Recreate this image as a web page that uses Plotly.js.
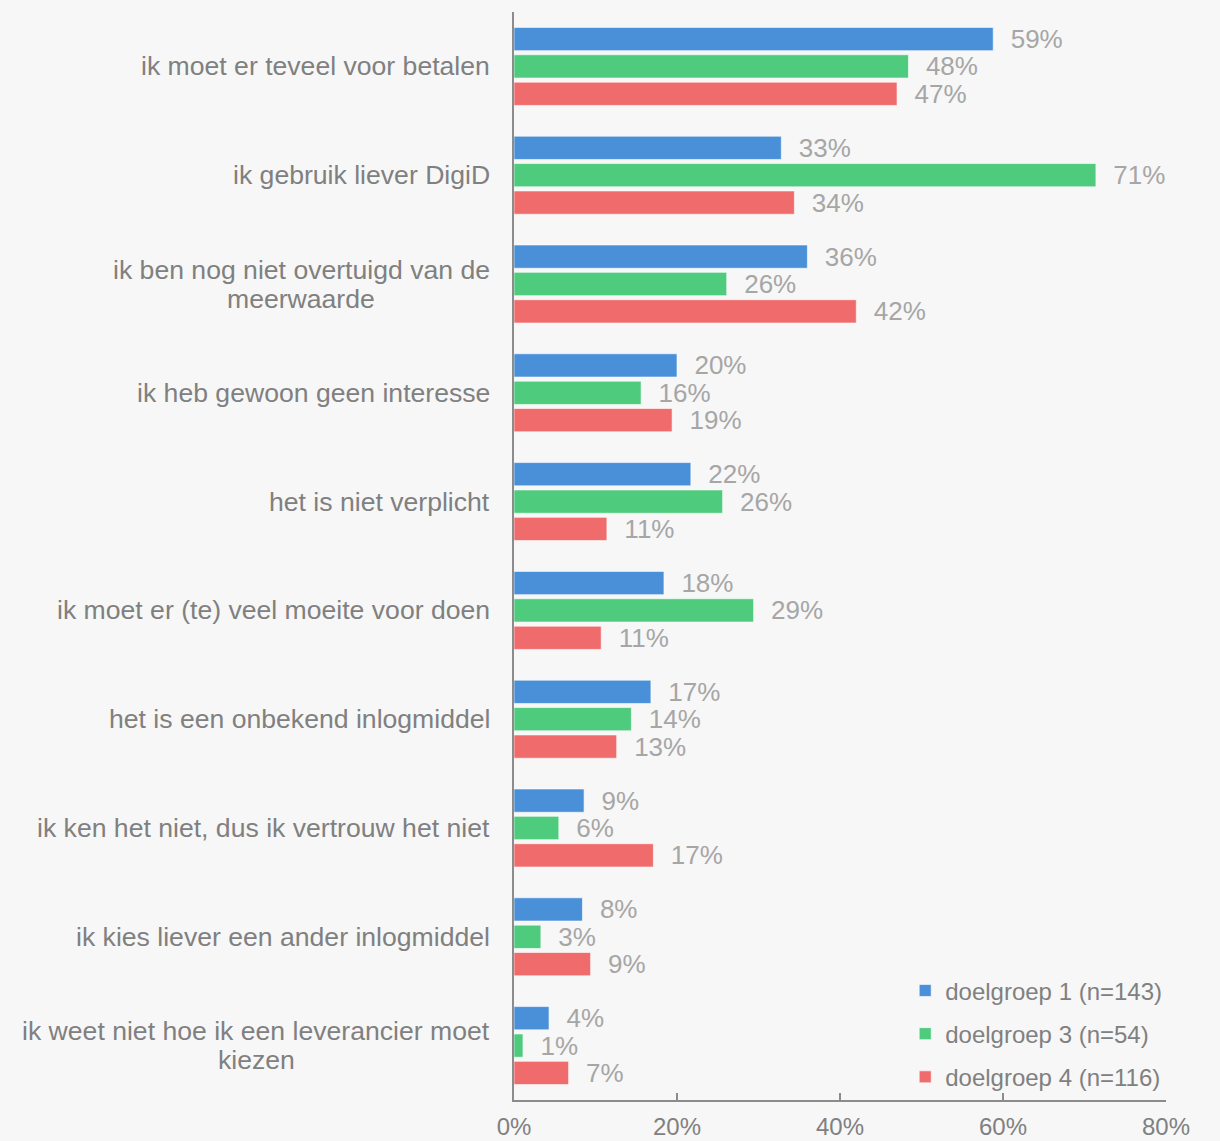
<!DOCTYPE html>
<html>
<head>
<meta charset="utf-8">
<script src="https://cdn.plot.ly/plotly-3.0.1.min.js"></script>
<style>
  html, body { margin: 0; padding: 0; background: #f7f7f7; }
  #chart { width: 1220px; height: 1141px; }
</style>
</head>
<body>
<div id="chart"></div>
<script>
const categories = [
  "ik moet er teveel voor betalen",
  "ik gebruik liever DigiD",
  "ik ben nog niet overtuigd van de<br>meerwaarde",
  "ik heb gewoon geen interesse",
  "het is niet verplicht",
  "ik moet er (te) veel moeite voor doen",
  "het is een onbekend inlogmiddel",
  "ik ken het niet, dus ik vertrouw het niet",
  "ik kies liever een ander inlogmiddel",
  "ik weet niet hoe ik een leverancier moet<br>kiezen"
];
const seriesNames = ["doelgroep 1 (n=143)", "doelgroep 3 (n=54)", "doelgroep 4 (n=116)"];
const doelgroep1 = [58.8, 32.8, 36.0, 20.0, 21.7, 18.4, 16.8, 8.6, 8.4, 4.3];
const doelgroep3 = [48.4, 71.4, 26.1, 15.6, 25.6, 29.4, 14.4, 5.5, 3.3, 1.1];
const doelgroep4 = [47.0, 34.4, 42.0, 19.4, 11.4, 10.7, 12.6, 17.1, 9.4, 6.7];
const seriesColors = ["#4a90d9", "#4ecb7c", "#f06b6b"];
const xTicks = [0, 20, 40, 60, 80];

const FONT = "Liberation Sans, Arial, sans-serif";
const CAT_SIZE = 26.6;
const allValues = [doelgroep1, doelgroep3, doelgroep4];
const traces = allValues.map((vals, i) => ({
  type: "bar",
  orientation: "h",
  name: seriesNames[i],
  legendgroup: "g" + i,
  y: categories,
  x: vals,
  text: vals.map(v => "\u00a0\u00a0" + Math.round(v) + "%"),
  texttemplate: "%{text}",
  marker: { color: seriesColors[i], line: { color: "rgba(255,255,255,0.6)", width: 1 } },
  textposition: "outside",
  constraintext: "none",
  cliponaxis: false,
  textfont: { family: FONT, size: 26, color: "#a6a6a6" },
  hoverinfo: "skip"
}));

// measure the widest line so the other lines are centred under it
const ctx = document.createElement("canvas").getContext("2d");
ctx.font = CAT_SIZE + "px 'Liberation Sans', Arial, sans-serif";

const LINE_H = 29;
const GAP = 24;
const annotations = [];
categories.forEach(c => {
  const lines = c.split("<br>");
  const n = lines.length;
  const widest = Math.max(...lines.map(l => ctx.measureText(l).width));
  lines.forEach((ln, k) => {
    annotations.push({
      xref: "paper", yref: "y",
      x: 0, y: c,
      xanchor: "center", yanchor: "middle",
      xshift: -GAP - widest / 2,
      yshift: ((n - 1) / 2 - k) * LINE_H,
      showarrow: false,
      text: ln,
      font: { family: FONT, size: CAT_SIZE, color: "#808080" }
    });
  });
});

const layout = {
  width: 1220,
  height: 1141,
  paper_bgcolor: "#f7f7f7",
  plot_bgcolor: "#f7f7f7",
  margin: { l: 514, r: 54, t: 12, b: 41, pad: 0 },
  barmode: "group",
  bargap: 0.245,
  bargroupgap: 0.15,
  font: { family: FONT, color: "#808080" },
  xaxis: {
    range: [0, 80],
    tickvals: xTicks,
    ticktext: xTicks.map(v => v + "%"),
    ticks: "inside",
    ticklen: 7,
    tickwidth: 1.5,
    tickcolor: "#8c8c8c",
    showline: true,
    linecolor: "#8c8c8c",
    linewidth: 2,
    showgrid: false,
    zeroline: false,
    ticklabelstandoff: 4,
    tickfont: { family: FONT, size: 24, color: "#808080" },
    fixedrange: true
  },
  yaxis: {
    type: "category",
    autorange: "reversed",
    showticklabels: false,
    ticks: "",
    showline: true,
    linecolor: "#8c8c8c",
    linewidth: 2,
    showgrid: false,
    zeroline: false,
    fixedrange: true
  },
  showlegend: true,
  legend: {
    x: 0.600, xanchor: "left",
    y: 0.121, yanchor: "top",
    bgcolor: "rgba(0,0,0,0)",
    traceorder: "grouped",
    tracegroupgap: 9,
    font: { family: FONT, size: 24, color: "#808080" }
  },
  annotations: annotations
};

Plotly.newPlot("chart", traces, layout, { displayModeBar: false, staticPlot: true });
</script>
</body>
</html>
